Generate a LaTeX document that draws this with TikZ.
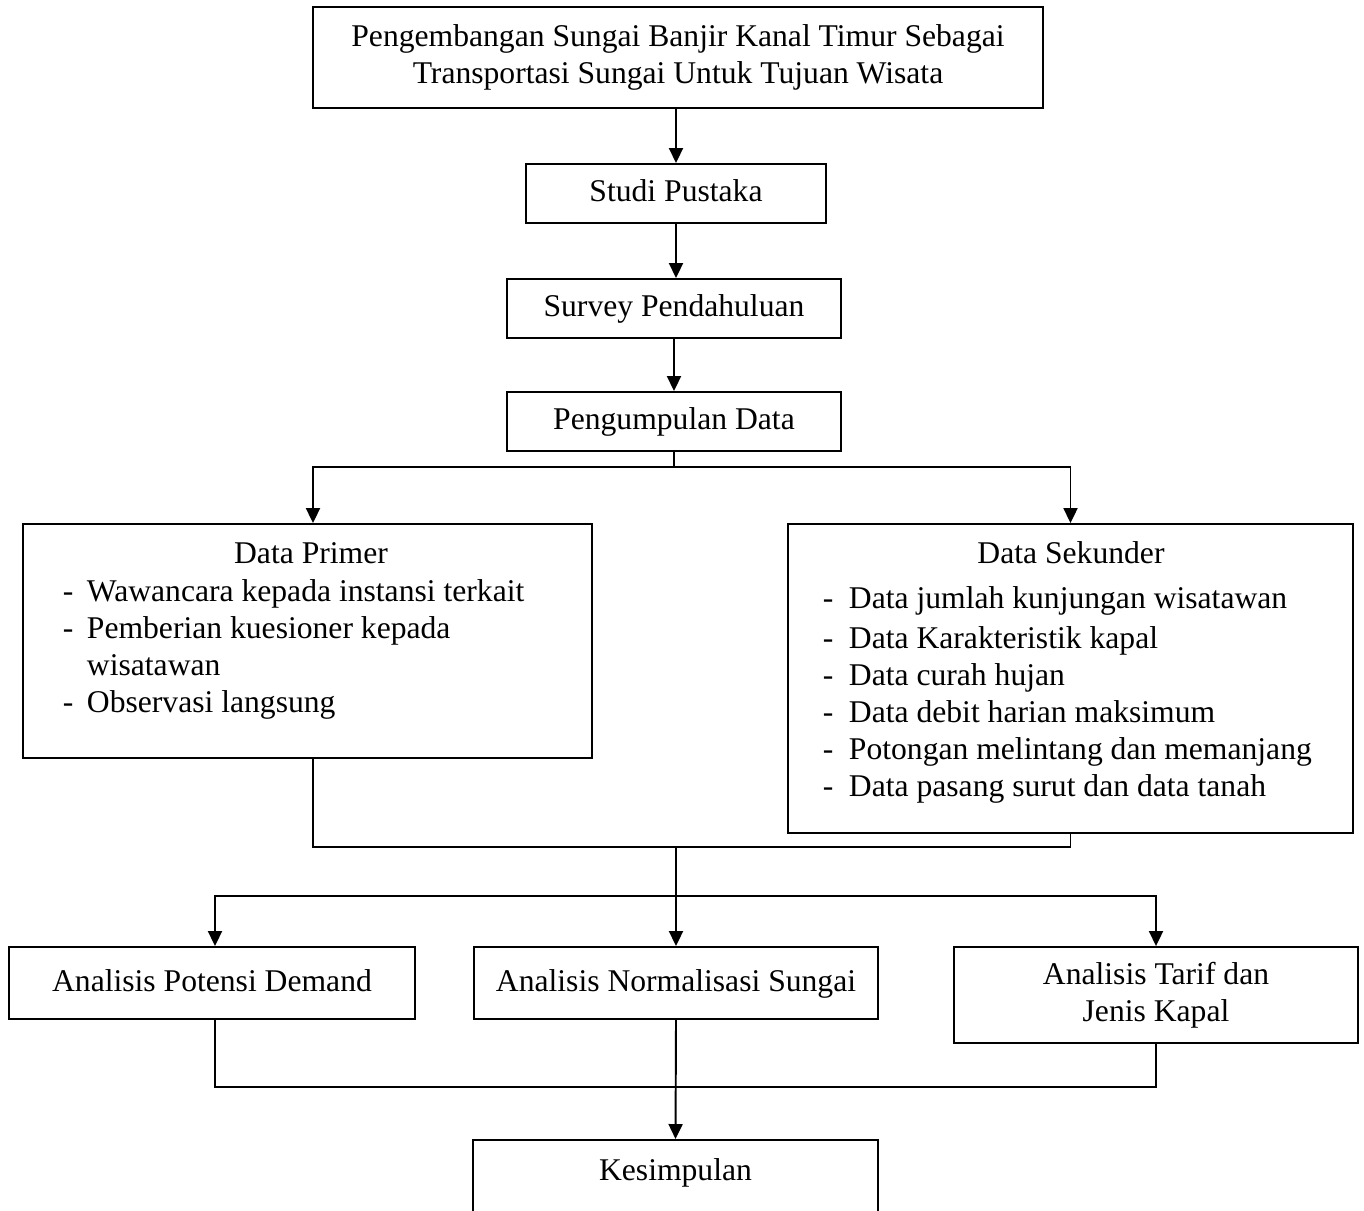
\documentclass[tikz,border=0pt]{standalone}
\usepackage{fontspec}
\setmainfont{Liberation Serif}
\usetikzlibrary{arrows.meta,positioning}

\begin{document}
\begin{tikzpicture}[
    x=0.02cm, y=-0.02cm,
    font=\fontsize{18}{21}\selectfont,
    line width=1.1pt,
    box/.style={draw,rectangle,align=center,inner sep=0pt},
    one/.style={box,text height=0.44cm,text depth=0.12cm},
    arr/.style={-{Triangle[length=0.3cm,width=0.28cm]}},
    lst/.style={anchor=base west,inner sep=0pt,align=left},
    hd/.style={anchor=base,inner sep=0pt}
  ]
    \useasboundingbox (0,0) rectangle (1364,1210);

    % alur atas
    \node[box,minimum width=14.6cm,minimum height=2.02cm] (judul) at (678,57.5) {Pengembangan Sungai Banjir Kanal Timur Sebagai\\Transportasi Sungai Untuk Tujuan Wisata};
    \node[one,minimum width=6cm,minimum height=1.18cm] (studi) at (676,193.5) {Studi Pustaka};
    \node[one,minimum width=6.68cm,minimum height=1.18cm] (survey) at (674,308.5) {Survey Pendahuluan};
    \node[one,minimum width=6.68cm,minimum height=1.18cm] (kumpul) at (674,421.5) {Pengumpulan Data};

    % data primer dan sekunder (base = baris terakhir)
    \node[box,minimum width=11.38cm,minimum height=4.68cm] (primer) at (307.5,641) {};
    \node[hd] (primerjudul) at (311,563) {Data Primer};
    \node[lst] (primerisi) at (62,712) {\makebox[0.48cm][l]{-}Wawancara kepada instansi terkait\\
      \makebox[0.48cm][l]{-}Pemberian kuesioner kepada\\
      \hspace*{0.48cm}wisatawan\\
      \makebox[0.48cm][l]{-}Observasi langsung};

    \node[box,minimum width=11.3cm,minimum height=6.18cm] (sekunder) at (1070.5,678.5) {};
    \node[hd] (sekunderjudul) at (1071,563) {Data Sekunder};
    \node[lst] (sekunderisi) at (822,796) {\makebox[0.52cm][l]{-}Data jumlah kunjungan wisatawan\\[1.5pt]
      \makebox[0.52cm][l]{-}Data Karakteristik kapal\\
      \makebox[0.52cm][l]{-}Data curah hujan\\
      \makebox[0.52cm][l]{-}Data debit harian maksimum\\
      \makebox[0.52cm][l]{-}Potongan melintang dan memanjang\\
      \makebox[0.52cm][l]{-}Data pasang surut dan data tanah};

    % analisis
    \node[one,minimum width=8.12cm,minimum height=1.44cm] (potensi) at (212,983) {Analisis Potensi Demand};
    \node[one,minimum width=8.08cm,minimum height=1.44cm] (normal) at (676,983) {Analisis Normalisasi Sungai};
    \node[box,minimum width=8.08cm,minimum height=1.92cm] (tarif) at (1156,995) {Analisis Tarif dan\\Jenis Kapal};
    \node[box,anchor=north,minimum width=8.1cm,text height=0.82cm,text depth=1.5cm] (simpul) at (675.5,1139) {Kesimpulan};

    \coordinate (cabang1) at (674,467);
    \coordinate (gabung1) at (676,847);
    \coordinate (cabang2) at (676,896);
    \coordinate (gabung2) at (674,1087);

    \draw[arr] (studi.north |- judul.south) -- (studi.north);
    \draw[arr] (studi.south) -- (studi.south |- survey.north);
    \draw[arr] (survey) -- (kumpul);
    \draw (kumpul.south) -- (cabang1);
    \draw[arr] (cabang1) -| ([xshift=0.11cm]primer.north);
    \draw[arr] (cabang1) -| (sekunder.north);
    \draw ([xshift=0.11cm]primer.south) |- (gabung1);
    \draw (sekunder.south) |- (gabung1);
    \draw[arr] (gabung1) -- (normal.north);
    \draw[arr] (cabang2) -| ([xshift=0.06cm]potensi.north);
    \draw[arr] (cabang2) -| (tarif.north);
    \draw ([xshift=0.06cm]potensi.south) |- (gabung2) -| (tarif.south);
    \draw[arr] (normal.south) -- (simpul.north);
  \end{tikzpicture}
\end{document}
